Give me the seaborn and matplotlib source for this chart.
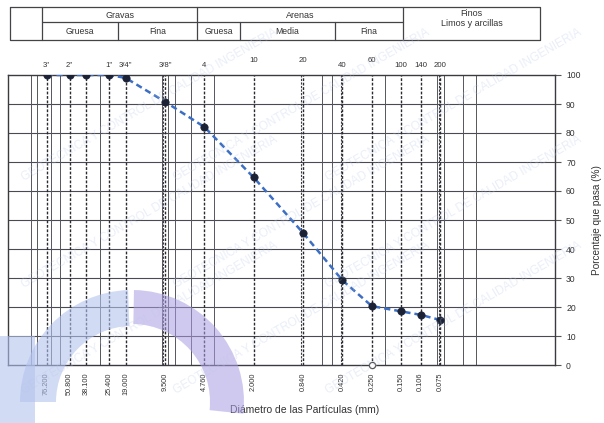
import numpy as np
import pandas as pd
import matplotlib
matplotlib.use("Agg")
import matplotlib.pyplot as plt
from matplotlib.patches import Wedge, Rectangle
import seaborn as sns

# --- sieve analysis data ---
top_labels = ['3"', '2"', '', '1"', '3/4"', '3/8"', '4', '10', '20', '40', '60', '100', '140', '200']
diam_labels = ["76.200", "50.800", "38.100", "25.400", "19.000", "9.500", "4.760",
               "2.000", "0.840", "0.420", "0.250", "0.150", "0.106", "0.075"]
diameters = [76.2, 50.8, 38.1, 25.4, 19.0, 9.5, 4.76, 2.0, 0.84, 0.42, 0.25, 0.15, 0.106, 0.075]
passing = [100, 100, 100, 100, 99, 90.8, 82.1, 64.7, 45.6, 29.2, 20.3, 18.5, 17.3, 15.5]

# extra reference verticals of the chart grid (mm)
solid_grid = [100, 90, 70, 60, 30, 10, 9, 8, 6, 4, 0.6, 0.5, 0.2, 0.08, 0.07, 0.05, 0.04]
double_lines = [9.75, 0.87, 0.43, 0.0775]

# soil classification header
groups = ["Gravas", "Arenas"]
subgroups = ["Gruesa", "Fina", "Gruesa", "Media", "Fina"]
fines_title = ["Finos", "Limos y arcillas"]

df = pd.DataFrame({"diametro": diameters, "pasa": passing})

sns.set_style("white")
plt.rcParams["font.family"] = ["Liberation Sans", "DejaVu Sans"]

W, H = 604, 423
fig = plt.figure(figsize=(W / 100, H / 100), dpi=100)
fig.patch.set_facecolor("white")

L, R, T, B = 8, 555, 75, 365
ax = fig.add_axes([L / W, 1 - B / H, (R - L) / W, (B - T) / H])
ax.set_xscale("log")
ax.set_xlim(150, 0.01)
ax.set_ylim(0, 100)

grid_c = "#4a4a52"
for y in range(10, 100, 10):
    ax.axhline(y, color=grid_c, lw=0.8, zorder=1)
for x in solid_grid:
    ax.axvline(x, color="#55555c", lw=0.7, zorder=1)
for x in diameters:
    ax.axvline(x, color="#2a2a30", lw=1.0, ls=(0, (2.0, 1.2)), zorder=1.5)
for x in double_lines:
    ax.axvline(x, color="#3a3a40", lw=0.8, ls=(0, (2.0, 1.2)), zorder=1.5)

sns.lineplot(data=df, x="diametro", y="pasa", ax=ax, color="#3c6ec4", lw=1.8,
             linestyle=(0, (2.5, 1.6)), zorder=3, legend=False)
sns.scatterplot(data=df, x="diametro", y="pasa", ax=ax, color="#1b2236", s=28,
                edgecolor="#1b2236", linewidth=0.5, zorder=4, legend=False)
ax.plot([0.25], [0], marker="o", ms=4.5, mfc="white", mec="#555555", mew=0.9,
        clip_on=False, zorder=5)

for s in ax.spines.values():
    s.set_color("#3a3a40")
    s.set_linewidth(1.0)

ax.set_xticks([])
ax.minorticks_off()
ax.set_xticks([100], minor=True)
ax.tick_params(axis="x", which="minor", length=5, width=0.8, color="#555555",
               labelbottom=False)
ax.tick_params(axis="x", which="major", bottom=False, labelbottom=False)

ax.yaxis.tick_right()
ax.set_yticks(range(0, 101, 10))
ax.tick_params(axis="y", right=True, left=False, length=4, width=0.8,
               color="#555555", labelsize=6.2, labelcolor="#333333", pad=4)
ax.yaxis.set_label_position("right")
ax.set_ylabel("Porcentaje que pasa (%)", fontsize=7.2, color="#333333", labelpad=8)
ax.set_xlabel("")

# sieve names above the plot, diameters below it
trans = ax.get_xaxis_transform()
top_y = [1.02, 1.02, 1.02, 1.02, 1.02, 1.02, 1.02, 1.037, 1.037, 1.02, 1.037, 1.02, 1.022, 1.02]
for d, lab, ty in zip(diameters, top_labels, top_y):
    ax.text(d, ty, lab, transform=trans, ha="center", va="bottom", fontsize=5.6,
            color="#333333")
for d, lab in zip(diameters, diam_labels):
    ax.text(d, -0.025, lab, transform=trans, ha="center", va="top", rotation=90,
            fontsize=5.3, color="#333333")
fig.text(305 / W, 1 - 410 / H, "Diámetro de las Partículas (mm)", ha="center",
         va="center", fontsize=7.5, color="#333333")

# overlay in pixel coordinates: classification header and background emblem
ov = fig.add_axes([0, 0, 1, 1], zorder=5)
ov.set_xlim(0, W)
ov.set_ylim(H, 0)
ov.axis("off")
ov.patch.set_alpha(0)

hc = "#444448"
y0, ym, y1 = 7, 22.5, 40
x_edges = [10, 42, 118, 197, 240, 335, 403, 540]
ov.plot([x_edges[0], x_edges[-1], x_edges[-1], x_edges[0], x_edges[0]],
        [y0, y0, y1, y1, y0], color=hc, lw=0.9)
ov.plot([x_edges[1], x_edges[6]], [ym, ym], color=hc, lw=0.9)
for x in [x_edges[1], x_edges[3], x_edges[6]]:
    ov.plot([x, x], [y0, y1], color=hc, lw=0.9)
for x in [x_edges[2], x_edges[4], x_edges[5]]:
    ov.plot([x, x], [ym, y1], color=hc, lw=0.9)

tc = "#333333"
fs = 6.5
ov.text((x_edges[1] + x_edges[3]) / 2, (y0 + ym) / 2 + 0.5, groups[0], ha="center", va="center", fontsize=fs, color=tc)
ov.text((x_edges[3] + x_edges[6]) / 2, (y0 + ym) / 2 + 0.5, groups[1], ha="center", va="center", fontsize=fs, color=tc)
ov.text((x_edges[6] + x_edges[7]) / 2, 13, fines_title[0], ha="center", va="center", fontsize=fs, color=tc)
ov.text((x_edges[6] + x_edges[7]) / 2, 23.5, fines_title[1], ha="center", va="center", fontsize=fs, color=tc)
for i, s in enumerate(subgroups):
    ov.text((x_edges[i + 1] + x_edges[i + 2]) / 2, (ym + y1) / 2 + 0.5, s,
            ha="center", va="center", fontsize=fs - 0.3, color=tc)

# emblem: split ring and side bar
ov.add_patch(Rectangle((0, 336), 35, 90, color="#b3c3ee", alpha=0.6, lw=0))
ov.add_patch(Wedge((132, 402), 112, 180, 268, width=36, color="#b3c3ee", alpha=0.6, lw=0))
ov.add_patch(Wedge((132, 402), 112, 271, 366, width=34, color="#ab9de2", alpha=0.55, lw=0))

# faint diagonal watermark
wm = "GEOTECNICA Y CONTROL DE CALIDAD INGENIERIA"
for wx, wy in [(150, 105), (302, 105), (454, 105), (150, 212), (302, 212),
               (454, 212), (150, 318), (302, 318), (454, 318)]:
    ov.text(wx, wy, wm, rotation=30, ha="center", va="center", fontsize=8.5,
            color="#b8c6e6", alpha=0.3)

fig.savefig("out.png", dpi=100, facecolor="white")
